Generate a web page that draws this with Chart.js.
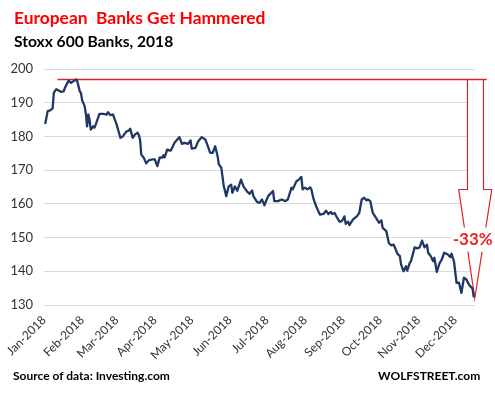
<!DOCTYPE html>
<html>
<head>
<meta charset="utf-8">
<script src="https://cdn.jsdelivr.net/npm/chart.js@4"></script>
<style>
  html, body { margin: 0; padding: 0; background: #fff; }
  #wrap { position: relative; width: 495px; height: 393px; font-family: Lato, "Open Sans", sans-serif; }
  #grafico_bancos { position: absolute; left: 0; top: 0; }
  .txt { position: absolute; white-space: pre; font-weight: bold; line-height: 1; }
  #titulo { left: 14px; top: 9px; font-size: 17.4px; color: #ff0000; }
  #subtitulo { left: 14px; top: 34px; font-size: 15.6px; color: #000; }
  #fonte { left: 13px; top: 370px; font-size: 12px; color: #000; }
  #site { left: 378px; top: 370px; font-size: 12px; color: #000; }
</style>
</head>
<body>
<div id="wrap">
  <canvas id="grafico_bancos" width="495" height="393"></canvas>
  <div class="txt" id="titulo">European  Banks Get Hammered</div>
  <div class="txt" id="subtitulo">Stoxx 600 Banks, 2018</div>
  <div class="txt" id="fonte">Source of data: Investing.com</div>
  <div class="txt" id="site">WOLFSTREET.com</div>
</div>
<script>
/* Stoxx 600 Banks em 2018 - dias contados a partir de 1 de janeiro */

const dias_2018 = [
    1, 3, 5, 7, 8, 10, 12, 14, 16, 17, 20, 22, 24, 26, 27, 29, 30, 31, 33, 34,
    35, 36, 37, 38, 40, 41, 42, 45, 48, 51, 52, 54, 56, 57, 59, 62, 64, 67, 69, 70,
    72, 74, 76, 77, 78, 79, 81, 83, 85, 88, 90, 92, 94, 96, 97, 98, 100, 103, 104, 106,
    110, 112, 114, 117, 119, 120, 123, 125, 128, 131, 133, 135, 137, 139, 141, 142, 144, 146, 148, 150,
    152, 153, 155, 157, 160, 162, 165, 167, 169, 170, 173, 175, 177, 179, 182, 186, 187, 190, 193, 196,
    198, 201, 202, 205, 207, 209, 210, 212, 214, 216, 217, 219, 221, 224, 227, 229, 231, 233, 234, 236,
    238, 240, 242, 244, 245, 247, 248, 251, 254, 256, 258, 260, 262, 263, 265, 267, 270, 272, 274, 275,
    278, 280, 282, 284, 287, 289, 290, 292, 294, 295, 297, 298, 301, 303, 305, 307, 309, 311, 312, 314,
    316, 317, 319, 321, 323, 325, 328, 330, 331, 333, 335, 337, 339, 341, 343, 345, 346, 348, 349
];

const valores_stoxx = [
    183.7, 187.5, 187.7, 188.3, 193.0, 194.0, 193.6, 193.2, 193.4, 194.4, 196.6, 195.9, 196.4, 196.9, 196.4, 193.4, 192.9, 190.7, 189.0, 186.7,
    183.0, 186.5, 185.0, 182.0, 183.0, 182.6, 183.5, 186.7, 186.7, 186.5, 187.2, 186.3, 186.5, 185.5, 183.5, 179.6, 180.0, 181.5, 181.7, 182.3,
    179.6, 180.6, 181.1, 180.4, 179.1, 174.6, 173.7, 172.0, 172.9, 173.2, 173.2, 171.2, 173.8, 173.7, 174.4, 173.8, 176.1, 175.8, 176.6, 178.1,
    179.8, 177.8, 178.1, 177.8, 178.8, 176.4, 176.6, 178.4, 179.8, 179.1, 177.1, 175.1, 175.1, 177.1, 174.1, 171.7, 170.7, 165.2, 162.3, 165.2,
    165.7, 163.3, 165.2, 163.9, 167.2, 165.2, 163.6, 163.0, 164.0, 162.3, 160.6, 160.3, 161.3, 159.6, 162.3, 163.8, 160.8, 160.8, 161.3, 160.8,
    161.3, 164.8, 164.3, 166.7, 167.2, 168.0, 164.3, 164.8, 164.3, 164.9, 164.5, 161.3, 159.3, 156.8, 157.0, 158.0, 157.0, 157.6, 157.0, 157.3,
    155.9, 154.7, 154.9, 156.3, 154.1, 154.7, 153.7, 155.4, 156.3, 157.3, 161.3, 161.8, 161.0, 161.3, 160.8, 157.3, 155.6, 154.4, 155.1, 152.9,
    151.9, 148.4, 147.7, 147.9, 145.2, 144.5, 142.0, 140.0, 141.5, 140.2, 142.5, 143.0, 147.1, 146.8, 147.1, 149.1, 147.1, 147.9, 145.5, 144.5,
    143.0, 144.0, 139.8, 142.2, 143.5, 145.5, 145.0, 144.2, 145.2, 142.8, 136.6, 136.6, 133.6, 138.1, 137.6, 136.1, 135.6, 134.9, 132.3
];

const inicio_meses = [0, 31, 59, 90, 120, 151, 181, 212, 243, 273, 304, 334];
const labels_meses = [
    'Jan-2018', 'Feb-2018', 'Mar-2018', 'Apr-2018', 'May-2018', 'Jun-2018',
    'Jul-2018', 'Aug-2018', 'Sep-2018', 'Oct-2018', 'Nov-2018', 'Dec-2018'
];

const pico_valor = 197;          // linha vermelha do topo
const pico_dia = 11;             // onde a linha vermelha começa
const queda_texto = '-33%';

/* seta vermelha com o percentual da queda */
const plugin_seta = {
    id: 'seta',
    beforeDatasetsDraw(chart) {
        const { ctx, scales: { x, y } } = chart;
        const ultimo = dias_2018.length - 1;
        const yTopo = Math.round(y.getPixelForValue(pico_valor)) + 0.5;
        const yDegrau = Math.round(y.getPixelForValue(164.5)) + 0.5;
        const xPonta = x.getPixelForValue(dias_2018[ultimo]) + 1;
        const yPonta = y.getPixelForValue(valores_stoxx[ultimo]) + 1;
        const xIni = x.getPixelForValue(pico_dia);

        ctx.save();
        ctx.beginPath();
        ctx.moveTo(Math.round(xPonta - 8) + 0.5, yTopo);
        ctx.lineTo(Math.round(xPonta - 8) + 0.5, yDegrau);
        ctx.lineTo(xPonta - 16, yDegrau);
        ctx.lineTo(xPonta, yPonta);
        ctx.lineTo(xPonta + 17, yDegrau);
        ctx.lineTo(Math.round(xPonta + 8) + 0.5, yDegrau);
        ctx.lineTo(Math.round(xPonta + 8) + 0.5, yTopo);
        ctx.closePath();
        ctx.fillStyle = '#ffffff';
        ctx.fill();
        ctx.strokeStyle = '#e02424';
        ctx.lineWidth = 1.2;
        ctx.stroke();

        ctx.beginPath();
        ctx.moveTo(xIni, yTopo);
        ctx.lineTo(xPonta + 12, yTopo);
        ctx.lineWidth = 1.5;
        ctx.stroke();

        // texto do percentual com fundo branco
        ctx.font = 'bold 17px Lato, "Open Sans", sans-serif';
        const larg = ctx.measureText(queda_texto).width;
        const cx = xPonta - 2;
        const cy = y.getPixelForValue(149.4);
        ctx.fillStyle = '#ffffff';
        ctx.fillRect(cx - larg / 2 - 2, cy - 12, larg + 4, 24);
        ctx.fillStyle = '#f02424';
        ctx.textAlign = 'center';
        ctx.textBaseline = 'middle';
        ctx.fillText(queda_texto, cx, cy);
        ctx.restore();
    }
};

const data_stoxx = {
    datasets: [{
        label: 'Stoxx 600 Banks',
        data: dias_2018.map((d, i) => ({ x: d, y: valores_stoxx[i] })),
        borderColor: '#203864',
        backgroundColor: '#203864',
        borderWidth: 2.3,
        pointRadius: 0,
        tension: 0,
        borderJoinStyle: 'round'
    }]
};

const config_stoxx = {
    type: 'line',
    data: data_stoxx,
    options: {
        responsive: false,
        animation: false,
        layout: { padding: { top: 69, right: 20, left: 0, bottom: 0 } },
        plugins: {
            legend: { display: false },
            tooltip: { enabled: false }
        },
        scales: {
            x: {
                type: 'linear',
                min: 0,
                max: 350,
                afterBuildTicks: (scale) => {
                    scale.ticks = inicio_meses.map(v => ({ value: v }));
                },
                afterFit: (scale) => { scale.height = 88; },
                grid: { display: false, drawTicks: false },
                border: { display: false },
                ticks: {
                    autoSkip: false,
                    minRotation: 45,
                    maxRotation: 45,
                    padding: 8,
                    color: '#333333',
                    font: { family: 'Lato, "Open Sans", sans-serif', size: 12 },
                    callback: (v) => labels_meses[inicio_meses.indexOf(v)]
                }
            },
            y: {
                min: 130,
                max: 200,
                afterFit: (scale) => { scale.width = 44; },
                grid: { color: '#d9d9d9', lineWidth: 1, drawTicks: false },
                border: { display: false },
                ticks: {
                    stepSize: 10,
                    padding: 11,
                    color: '#333333',
                    font: { family: 'Lato, "Open Sans", sans-serif', size: 13 }
                }
            }
        }
    },
    plugins: [plugin_seta]
};

const grafico_bancos = new Chart(
    document.getElementById('grafico_bancos'),
    config_stoxx
);
</script>
</body>
</html>
